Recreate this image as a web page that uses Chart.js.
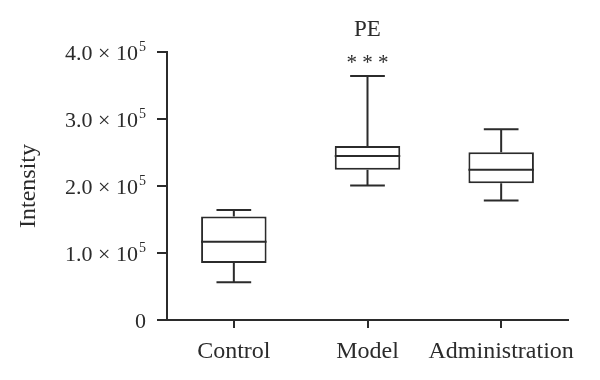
<!DOCTYPE html>
<html>
<head>
<meta charset="utf-8">
<script src="https://cdn.jsdelivr.net/npm/chart.js@4/dist/chart.umd.min.js"></script>
<style>
  html, body { margin: 0; padding: 0; background: #fff; }
  #wrap { width: 600px; height: 380px; }
</style>
</head>
<body>
<div id="wrap"><canvas id="c" width="600" height="380"></canvas></div>
<script>
// ---- data ----
const categories = ['Control', 'Model', 'Administration'];
const whiskerMin = [56500, 200700, 178300];
const q1 = [85000, 224200, 204200];
const median = [116900, 244700, 224200];
const q3 = [154300, 259700, 250200];
const whiskerMax = [164300, 364000, 284600];
const significance = ['', '* * *', ''];
const yTickValues = [0, 100000, 200000, 300000, 400000];
const yTickMantissas = ['0', '1.0 × 10', '2.0 × 10', '3.0 × 10', '4.0 × 10'];
const yTickExponents = ['', '5', '5', '5', '5'];
const chartTitle = 'PE';
const yAxisTitle = 'Intensity';

const INK = '#2b2b2b';
const FONT = "'Liberation Serif', 'Times New Roman', serif";

const boxPlugin = {
  id: 'boxWhiskers',
  afterDatasetsDraw(chart) {
    const ctx = chart.ctx;
    const xs = chart.scales.x, ys = chart.scales.y;
    const meta = chart.getDatasetMeta(0);
    ctx.save();
    ctx.strokeStyle = INK;
    ctx.lineWidth = 2;
    ctx.lineCap = 'butt';
    categories.forEach((c, i) => {
      const x = xs.getPixelForValue(i);
      const w = meta.data[i].width;
      const cap = w * 0.53;
      const yMed = ys.getPixelForValue(median[i]);
      const yQ1 = ys.getPixelForValue(q1[i]);
      const yQ3 = ys.getPixelForValue(q3[i]);
      const yMin = ys.getPixelForValue(whiskerMin[i]);
      const yMax = ys.getPixelForValue(whiskerMax[i]);
      ctx.beginPath();
      ctx.moveTo(x - w / 2, yMed); ctx.lineTo(x + w / 2, yMed);
      ctx.moveTo(x, yQ3); ctx.lineTo(x, yMax);
      ctx.moveTo(x - cap / 2, yMax); ctx.lineTo(x + cap / 2, yMax);
      ctx.moveTo(x, yQ1); ctx.lineTo(x, yMin);
      ctx.moveTo(x - cap / 2, yMin); ctx.lineTo(x + cap / 2, yMin);
      ctx.stroke();
      if (significance[i]) {
        ctx.fillStyle = INK;
        ctx.font = "21px " + FONT;
        ctx.textAlign = 'center';
        ctx.textBaseline = 'middle';
        ctx.fillText(significance[i], x, yMax - 13);
      }
    });
    ctx.restore();
  },
  afterDraw(chart) {
    const ctx = chart.ctx;
    const ys = chart.scales.y;
    const area = chart.chartArea;
    ctx.save();
    ctx.fillStyle = INK;
    // title centred over the plot area
    ctx.font = "23px " + FONT;
    ctx.textAlign = 'center';
    ctx.textBaseline = 'middle';
    ctx.fillText(chartTitle, (area.left + area.right) / 2, 30);
    // y tick labels with superscript exponents
    const right = area.left - 10 - 11;
    ys.ticks.forEach(t => {
      const k = yTickValues.indexOf(t.value);
      if (k < 0) return;
      const y = ys.getPixelForValue(t.value);
      const base = y + 7.5;
      let x = right;
      ctx.textAlign = 'right';
      ctx.textBaseline = 'alphabetic';
      if (yTickExponents[k]) {
        ctx.font = "14px " + FONT;
        ctx.fillText(yTickExponents[k], x, base - 9);
        x -= ctx.measureText(yTickExponents[k]).width + 1;
      }
      ctx.font = "22px " + FONT;
      ctx.fillText(yTickMantissas[k], x, base);
    });
    ctx.restore();
  }
};

new Chart(document.getElementById('c'), {
  type: 'bar',
  data: {
    labels: categories,
    datasets: [{
      data: categories.map((c, i) => [q1[i], q3[i]]),
      backgroundColor: '#ffffff',
      borderColor: INK,
      borderWidth: 2,
      borderSkipped: false,
      barPercentage: 0.49,
      categoryPercentage: 1.0
    }]
  },
  plugins: [boxPlugin],
  options: {
    responsive: false,
    animation: false,
    devicePixelRatio: 1,
    layout: { padding: { left: 0, right: 32, top: 52, bottom: 0 } },
    plugins: {
      legend: { display: false },
      tooltip: { enabled: false },
      title: { display: false }
    },
    scales: {
      x: {
        type: 'category',
        offset: true,
        grid: { display: true, drawOnChartArea: false, drawTicks: true, tickLength: 8, color: INK, lineWidth: 2, offset: false },
        border: { display: true, color: INK, width: 2 },
        ticks: { color: INK, font: { family: FONT, size: 24 }, padding: 9, maxRotation: 0, autoSkip: false },
        afterFit(scale) { scale.height = 60; }
      },
      y: {
        min: 0,
        max: 400000,
        afterBuildTicks(scale) { scale.ticks = yTickValues.map(v => ({ value: v })); },
        grid: { display: true, drawOnChartArea: false, drawTicks: true, tickLength: 10, color: INK, lineWidth: 2 },
        border: { display: true, color: INK, width: 2 },
        ticks: { display: false },
        title: {
          display: true,
          text: yAxisTitle,
          color: INK,
          font: { family: FONT, size: 24 },
          padding: { top: 14, bottom: 0 }
        },
        afterFit(scale) { scale.width = 167; }
      }
    }
  }
});
</script>
</body>
</html>
